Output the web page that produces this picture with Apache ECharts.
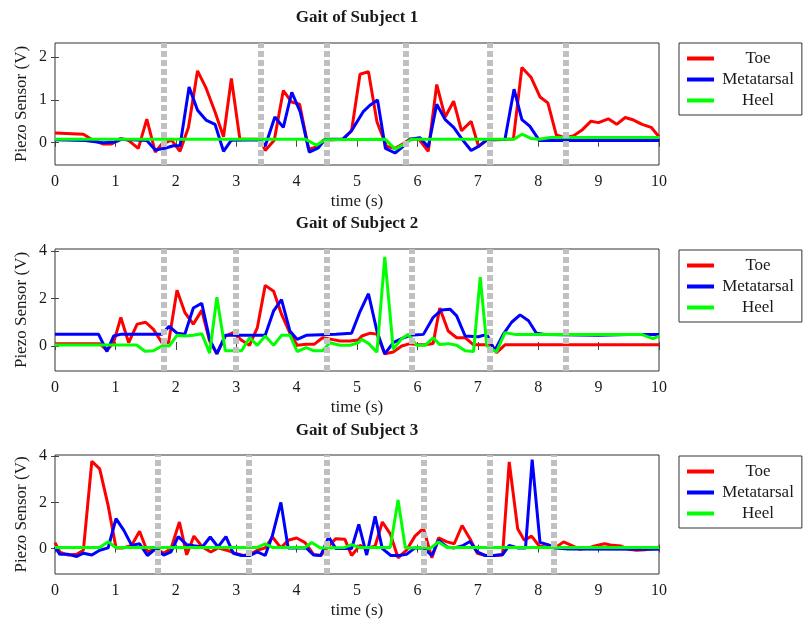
<!DOCTYPE html>
<html>
<head>
<meta charset="utf-8">
<script src="https://cdn.jsdelivr.net/npm/echarts@6/dist/echarts.min.js"></script>
<style>
  body { margin: 0; background: #fff; }
  #chart { width: 803px; height: 620px; }
</style>
</head>
<body>
<div id="chart"></div>
<script>
// time (s), voltage (V)
const toe1 = [[0,0.23],[0.47,0.2],[0.63,0.06],[0.8,-0.03],[0.94,-0.03],[1.08,0.1],[1.21,0.06],[1.38,-0.13],[1.52,0.55],[1.66,-0.22],[1.77,-0.03],[1.93,0.06],[2.07,-0.2],[2.21,0.36],[2.36,1.68],[2.5,1.28],[2.65,0.72],[2.79,0.14],[2.92,1.5],[3.06,0.09],[3.4,0.08],[3.48,-0.18],[3.63,0.06],[3.78,1.22],[3.92,0.95],[4.05,0.9],[4.2,-0.15],[4.33,-0.1],[4.44,0.06],[4.77,0.08],[4.91,0.28],[5.05,1.6],[5.19,1.66],[5.33,0.49],[5.49,-0.09],[5.63,-0.13],[5.77,-0.02],[5.88,0.09],[6.02,0.09],[6.18,-0.2],[6.32,1.36],[6.46,0.6],[6.6,0.97],[6.73,0.28],[6.89,0.5],[7.01,-0.08],[7.15,0.06],[7.59,0.09],[7.73,1.76],[7.88,1.53],[8.03,1.07],[8.16,0.93],[8.3,0.18],[8.44,0.12],[8.58,0.16],[8.72,0.29],[8.87,0.5],[9.0,0.47],[9.16,0.56],[9.3,0.43],[9.44,0.59],[9.58,0.53],[9.72,0.43],[9.87,0.36],[10,0.14]];
const metatarsal1 = [[0,0.07],[0.5,0.05],[0.8,0.0],[1.0,0.02],[1.1,0.08],[1.52,0.05],[1.66,-0.17],[1.82,-0.13],[1.96,-0.07],[2.07,-0.07],[2.22,1.3],[2.36,0.76],[2.5,0.53],[2.65,0.43],[2.79,-0.2],[2.92,0.06],[3.4,0.07],[3.48,-0.08],[3.64,0.6],[3.78,0.36],[3.92,1.18],[4.06,0.72],[4.21,-0.22],[4.36,-0.12],[4.47,0.08],[4.77,0.09],[4.91,0.28],[5.1,0.72],[5.21,0.87],[5.34,1.0],[5.47,-0.13],[5.63,-0.24],[5.77,-0.08],[5.88,0.08],[6.04,0.12],[6.18,-0.1],[6.32,0.9],[6.46,0.54],[6.6,0.36],[6.73,0.1],[6.89,-0.18],[7.02,-0.08],[7.15,0.07],[7.45,0.08],[7.6,1.25],[7.73,0.54],[7.86,0.39],[8.02,0.05],[10,0.05]];
const heel1 = [[0,0.08],[4.15,0.08],[4.33,-0.06],[4.47,0.07],[5.47,0.08],[5.63,-0.15],[5.8,-0.02],[5.9,0.08],[7.6,0.08],[7.73,0.2],[7.88,0.1],[8.02,0.08],[8.2,0.12],[10,0.12]];

const toe2 = [[0,0.1],[0.74,0.1],[0.86,-0.18],[0.97,0.14],[1.09,1.2],[1.22,0.14],[1.36,0.92],[1.5,1.0],[1.63,0.7],[1.77,0.14],[1.88,0.14],[2.02,2.35],[2.15,1.41],[2.29,0.92],[2.43,1.5],[2.56,0.21],[2.68,-0.32],[2.82,0.42],[2.95,0.56],[3.09,0.24],[3.22,0.03],[3.35,0.77],[3.48,2.55],[3.62,2.3],[3.75,1.34],[3.89,0.54],[4.01,0.03],[4.16,0.07],[4.29,0.07],[4.43,0.35],[4.58,0.28],[4.72,0.21],[4.88,0.21],[5.02,0.25],[5.08,0.42],[5.22,0.54],[5.33,0.5],[5.46,-0.33],[5.6,-0.25],[5.74,0],[5.88,0.1],[6.02,0.05],[6.13,0.05],[6.26,0.11],[6.37,1.6],[6.51,0.63],[6.65,0.35],[6.79,0.35],[6.93,0.05],[7.23,0.05],[7.31,-0.28],[7.45,0.05],[10,0.05]];
const metatarsal2 = [[0,0.5],[0.72,0.5],[0.86,-0.23],[0.97,0.42],[1.1,0.5],[1.77,0.5],[1.89,0.83],[2.02,0.54],[2.15,0.5],[2.29,1.6],[2.43,1.8],[2.56,0.28],[2.68,-0.33],[2.82,0.45],[3.48,0.45],[3.62,1.48],[3.75,1.95],[3.89,0.63],[4.01,0.28],[4.16,0.45],[4.65,0.5],[4.91,0.54],[5.05,1.45],[5.19,2.2],[5.33,0.63],[5.46,-0.33],[5.6,0.14],[5.74,0.31],[5.88,0.45],[6.1,0.49],[6.26,1.2],[6.4,1.52],[6.54,1.55],[6.65,1.27],[6.79,0.42],[7.01,0.39],[7.15,0.49],[7.28,-0.2],[7.42,0.49],[7.56,1.0],[7.7,1.31],[7.84,1.06],[7.97,0.54],[8.11,0.49],[9.0,0.45],[9.5,0.49],[10,0.49]];
const heel2 = [[0,0.04],[1.35,0.04],[1.49,-0.22],[1.63,-0.2],[1.77,0],[1.89,0],[2.02,0.45],[2.15,0.42],[2.29,0.45],[2.43,0.52],[2.56,-0.3],[2.68,2.05],[2.82,-0.2],[3.09,-0.2],[3.22,0.35],[3.35,0.03],[3.48,0.42],[3.62,0.03],[3.75,0.45],[3.89,0.45],[4.01,-0.23],[4.16,-0.07],[4.29,-0.2],[4.43,-0.2],[4.55,0.14],[4.72,0.03],[4.88,0.03],[5.02,0.14],[5.08,0.28],[5.19,0.11],[5.33,-0.26],[5.46,3.75],[5.6,-0.14],[5.74,0.31],[5.85,0.49],[5.99,0.03],[6.13,0.03],[6.26,0.35],[6.37,0.06],[6.51,0.1],[6.65,0.03],[6.79,-0.2],[6.93,-0.23],[7.04,2.9],[7.15,0],[7.31,-0.25],[7.45,0.56],[7.62,0.49],[9.71,0.49],[9.9,0.31],[10,0.42]];

const toe3 = [[0,0.26],[0.08,-0.15],[0.22,-0.28],[0.36,-0.25],[0.47,-0.07],[0.61,3.78],[0.74,3.45],[0.88,1.86],[1.01,0.03],[1.13,0.03],[1.27,0.14],[1.4,0.75],[1.53,-0.14],[1.67,0],[1.8,-0.2],[1.92,0],[2.06,1.15],[2.18,-0.27],[2.3,0.54],[2.44,0.07],[2.58,-0.15],[2.7,0.03],[2.84,-0.07],[2.98,-0.2],[3.11,-0.3],[3.23,-0.25],[3.35,-0.07],[3.48,0.03],[3.6,0.5],[3.74,0.03],[3.86,0.36],[4.0,0.46],[4.14,0.26],[4.28,-0.25],[4.4,-0.3],[4.54,0.14],[4.65,0.43],[4.8,0.4],[4.91,-0.3],[5.05,0.14],[5.16,0.0],[5.3,0.11],[5.42,1.15],[5.55,0.64],[5.68,-0.4],[5.82,-0.07],[5.96,0.54],[6.1,0.87],[6.24,-0.4],[6.35,0.46],[6.49,0.29],[6.61,0.21],[6.74,1.0],[6.87,0.43],[6.99,-0.2],[7.13,-0.3],[7.27,-0.3],[7.41,-0.28],[7.52,3.75],[7.66,0.86],[7.77,0.36],[7.89,0.54],[8.02,0.1],[8.28,0.03],[8.42,0.29],[8.55,0.14],[8.69,-0.03],[8.83,0.03],[8.97,0.14],[9.1,0.21],[9.23,0.14],[9.37,0.11],[9.5,-0.03],[9.63,-0.07],[9.77,-0.05],[9.91,0],[10,0.07]];
const metatarsal3 = [[0,0.07],[0.08,-0.25],[0.22,-0.25],[0.36,-0.34],[0.47,-0.2],[0.61,-0.28],[0.74,-0.07],[0.88,0.03],[1.01,1.3],[1.14,0.79],[1.27,0.14],[1.4,0.21],[1.53,-0.3],[1.67,0],[1.8,-0.28],[1.92,-0.14],[2.04,0.52],[2.18,0.17],[2.3,0.12],[2.44,0.07],[2.57,0.5],[2.7,0.07],[2.83,0.52],[2.95,-0.2],[3.09,-0.3],[3.23,-0.3],[3.35,-0.14],[3.48,-0.3],[3.6,0.57],[3.74,2.0],[3.86,0.03],[4.16,0.03],[4.28,-0.28],[4.4,-0.3],[4.53,0.5],[4.65,0.0],[4.91,0],[5.03,1.05],[5.16,-0.28],[5.3,1.4],[5.42,0],[5.56,-0.3],[5.69,-0.3],[5.82,-0.25],[5.96,0.03],[6.1,0.03],[6.24,-0.3],[6.35,0.36],[6.49,0.07],[6.61,0.03],[6.74,0.11],[6.87,0.31],[6.99,-0.14],[7.13,-0.3],[7.27,-0.3],[7.41,-0.26],[7.52,0.14],[7.66,0.03],[7.79,0.03],[7.9,3.85],[8.03,0.26],[8.16,0.17],[8.28,0.03],[8.5,-0.02],[10,-0.03]];
const heel3 = [[0,0.05],[0.74,0.05],[0.88,0.3],[1.0,0.05],[3.35,0.05],[3.48,0.2],[3.6,0.05],[4.14,0.05],[4.25,0.26],[4.39,0.03],[4.8,0.05],[4.91,0.17],[5.03,0.05],[5.55,0.05],[5.68,2.1],[5.8,0.03],[6.1,0.05],[6.21,0.0],[6.35,0.29],[6.49,0.05],[10,0.05]];

// gait event markers (grey dashed lines)
const events1 = [1.8, 3.4, 4.5, 5.8, 7.2, 8.45];
const events2 = [1.8, 3.0, 4.5, 5.9, 7.2, 8.45];
const events3 = [1.7, 3.2, 4.5, 6.1, 7.2, 8.25];

const titles = ['Gait of Subject 1', 'Gait of Subject 2', 'Gait of Subject 3'];
const seriesNames = ['Toe', 'Metatarsal', 'Heel'];
const yTicks1 = [0, 1, 2];
const yTicks2 = [0, 2, 4];
const yTicks3 = [0, 2, 4];

const panels = [
  { data: [toe1, metatarsal1, heel1], events: events1, yTicks: yTicks1, yMin: -0.52, yMax: 2.33, top: 43, height: 122, titleTop: 9, legendTop: 43 },
  { data: [toe2, metatarsal2, heel2], events: events2, yTicks: yTicks2, yMin: -1.05, yMax: 4.08, top: 249, height: 122, titleTop: 215, legendTop: 250 },
  { data: [toe3, metatarsal3, heel3], events: events3, yTicks: yTicks3, yMin: -1.1, yMax: 4.05, top: 455, height: 121, titleTop: 422, legendTop: 456 }
];

const colors = ['#ff0000', '#0000ff', '#00ff00'];
const font = '"Liberation Serif", "DejaVu Serif", serif';
const ink = '#1a1a1a';

const option = {
  animation: false,
  backgroundColor: '#fff',
  title: [],
  legend: [],
  grid: [],
  xAxis: [],
  yAxis: [],
  series: []
};

panels.forEach(function (p, i) {
  option.title.push({
    text: titles[i],
    left: 357,
    top: p.titleTop,
    textAlign: 'center',
    padding: 0,
    textStyle: { fontFamily: font, fontSize: 17, fontWeight: 'bold', color: ink }
  });
  option.legend.push({
    data: seriesNames,
    left: 679,
    top: p.legendTop,
    orient: 'vertical',
    selectedMode: false,
    icon: 'rect',
    itemWidth: 27,
    itemHeight: 4,
    itemGap: 4,
    padding: [7, 8, 6, 8],
    borderColor: '#333',
    borderWidth: 1,
    formatter: '{c|{name}}',
    textStyle: {
      fontFamily: font,
      fontSize: 17,
      color: ink,
      rich: { c: { width: 78, align: 'center', fontFamily: font, fontSize: 17, color: ink } }
    }
  });
  option.grid.push({
    left: 55, top: p.top, width: 604, height: p.height,
    show: true, borderColor: '#333', borderWidth: 1, backgroundColor: 'transparent'
  });
  const tick = { show: true, inside: true, length: 4, lineStyle: { color: '#444', width: 1 } };
  option.xAxis.push({
    type: 'value', gridIndex: i, min: 0, max: 10, interval: 1, position: 'bottom',
    name: 'time (s)', nameLocation: 'middle', nameGap: 28,
    nameTextStyle: { fontFamily: font, fontSize: 17, color: ink },
    axisLine: { show: false }, axisTick: tick, splitLine: { show: false },
    axisLabel: { fontFamily: font, fontSize: 16, color: ink, margin: 9 }
  });
  option.xAxis.push({
    type: 'value', gridIndex: i, min: 0, max: 10, interval: 1, position: 'top',
    axisLine: { show: false }, axisTick: tick, splitLine: { show: false },
    axisLabel: { show: false }
  });
  option.yAxis.push({
    type: 'value', gridIndex: i, min: p.yMin, max: p.yMax, position: 'left',
    name: 'Piezo Sensor (V)', nameLocation: 'middle', nameGap: 25, nameMoveOverlap: false,
    nameTextStyle: { fontFamily: font, fontSize: 17, color: ink },
    axisLine: { show: false },
    axisTick: Object.assign({ customValues: p.yTicks }, tick),
    splitLine: { show: false },
    axisLabel: { customValues: p.yTicks, fontFamily: font, fontSize: 16, color: ink, margin: 8 }
  });
  option.yAxis.push({
    type: 'value', gridIndex: i, min: p.yMin, max: p.yMax, position: 'right',
    axisLine: { show: false },
    axisTick: Object.assign({ customValues: p.yTicks }, tick),
    splitLine: { show: false },
    axisLabel: { show: false }
  });
  p.data.forEach(function (d, k) {
    const s = {
      name: seriesNames[k],
      type: 'line',
      xAxisIndex: 2 * i,
      yAxisIndex: 2 * i,
      data: d,
      showSymbol: false,
      symbol: 'none',
      color: colors[k],
      lineStyle: { color: colors[k], width: 3 },
      emphasis: { disabled: true }
    };
    if (k === 2) {
      s.markLine = {
        silent: true,
        symbol: ['none', 'none'],
        label: { show: false },
        lineStyle: { color: '#c0c0c0', width: 6, type: [6, 3] },
        data: p.events.map(function (t) { return { xAxis: t }; })
      };
    }
    option.series.push(s);
  });
});

const myChart = echarts.init(document.getElementById('chart'));
myChart.setOption(option);
</script>
</body>
</html>
